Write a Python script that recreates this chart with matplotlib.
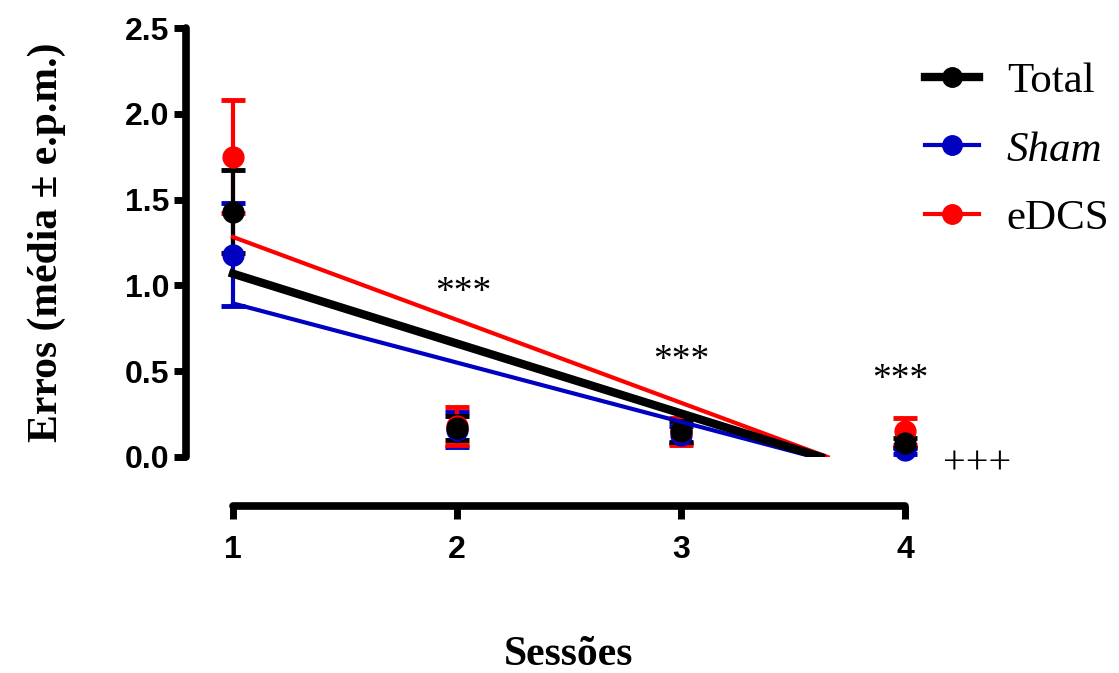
"""Errors per session: Total / Sham / eDCS means with s.e.m. and linear trend lines."""

import matplotlib

matplotlib.use("Agg")
import matplotlib.pyplot as plt  # noqa: E402
import numpy as np  # noqa: E402
from matplotlib.lines import Line2D  # noqa: E402

sessions = [1, 2, 3, 4]

total_mean = [1.43, 0.17, 0.15, 0.08]
total_sem = [0.24, 0.07, 0.06, 0.03]
sham_mean = [1.18, 0.16, 0.13, 0.04]
sham_sem = [0.30, 0.10, 0.05, 0.02]
edcs_mean = [1.75, 0.18, 0.15, 0.15]
edcs_sem = [0.33, 0.11, 0.08, 0.08]

sig_labels = ["***", "***", "***"]
sig_x = [2.03, 3.0, 3.98]
sig_y = [0.96, 0.56, 0.45]
plus_label = "+++"
plus_x = 4.32
plus_y = -0.04

SERIF = "Liberation Serif"
SANS = "Liberation Sans"
BLUE = "#0000c0"
RED = "#ff0000"

series = [
    ("Sham", sham_mean, sham_sem, BLUE, 3.0),
    ("eDCS", edcs_mean, edcs_sem, RED, 3.0),
    ("Total", total_mean, total_sem, "black", 6.0),
]

fig = plt.figure(figsize=(11.19, 6.73), dpi=100)
ax = fig.add_axes([186 / 1119, 1 - 457 / 673, 814 / 1119, 429 / 673])

x = np.array(sessions, dtype=float)
for name, mean, sem, color, lw in series:
    ax.errorbar(x, mean, yerr=sem, fmt="o", color=color, ms=15, elinewidth=3,
                capsize=8.5, capthick=3.5, clip_on=False, zorder=3)

# linear trend from session 1 down to where it crosses zero
for name, mean, sem, color, lw in series:
    slope, icpt = np.polyfit(x, mean, 1)
    x_end = -icpt / slope
    ax.plot([1, x_end], [slope + icpt, 0], color=color, lw=lw, zorder=4)

for lab, sx, sy in zip(sig_labels, sig_x, sig_y):
    ax.text(sx, sy, lab, ha="center", va="center", fontsize=27, family=SERIF)
ax.text(plus_x, plus_y, plus_label, ha="center", va="center", fontsize=29,
        family=SERIF, clip_on=False)

ax.set_xlim(1 - 47 / 224, 4 + 95 / 224)
ax.set_ylim(0, 2.5)
for side in ("top", "right"):
    ax.spines[side].set_visible(False)
ax.spines["left"].set_linewidth(5.5)
ax.spines["bottom"].set_linewidth(5.5)
ax.spines["left"].set_bounds(0, 2.5)
ax.spines["bottom"].set_bounds(1, 4)
ax.spines["bottom"].set_position(("outward", 35))
ax.spines["left"].set_capstyle("round")
ax.spines["bottom"].set_capstyle("round")

ax.set_xticks(sessions)
ax.set_yticks([0, 0.5, 1.0, 1.5, 2.0, 2.5])
ax.set_yticklabels([f"{v:.1f}" for v in [0, 0.5, 1.0, 1.5, 2.0, 2.5]])
ax.tick_params(axis="both", length=9, width=5)
ax.tick_params(axis="x", pad=12)
ax.tick_params(axis="y", pad=3)
for lab in ax.get_xticklabels() + ax.get_yticklabels():
    lab.set_fontfamily(SANS)
    lab.set_fontweight("bold")
    lab.set_fontsize(23)

ax.set_ylabel("Erros (média ± e.p.m.)", family=SERIF, fontweight="bold",
              fontsize=30, labelpad=42)
fig.text(569 / 1119, 1 - 655 / 673, "Sessões", ha="center", va="center",
         family=SERIF, fontweight="bold", fontsize=30)

handles = [
    Line2D([], [], color="black", lw=6, marker="o", ms=14),
    Line2D([], [], color=BLUE, lw=3, marker="o", ms=14),
    Line2D([], [], color=RED, lw=3, marker="o", ms=14),
]
leg = fig.legend(handles, ["Total", "Sham", "eDCS"], loc="upper left",
                 bbox_to_anchor=(925 / 1119, 1 - 62 / 673), frameon=False,
                 prop={"family": SERIF, "size": 31}, handlelength=1.25,
                 handletextpad=0.65, labelspacing=0.68, borderaxespad=0,
                 borderpad=0)
leg.get_texts()[1].set_fontstyle("italic")

fig.savefig("out.png", dpi=100)
